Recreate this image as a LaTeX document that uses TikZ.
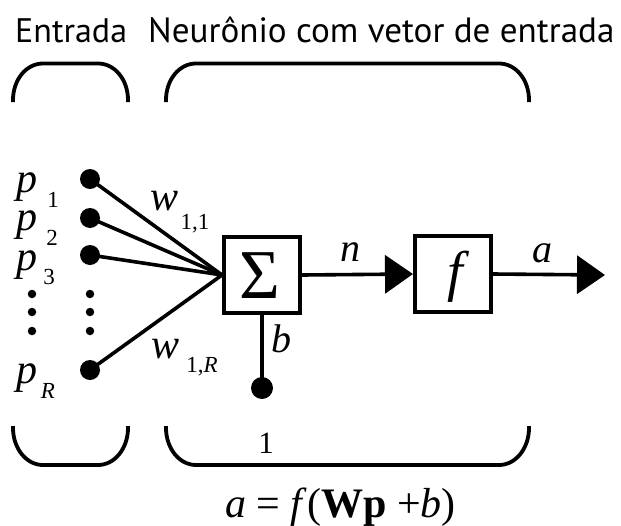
\documentclass[tikz,border=0pt]{standalone}
\usepackage{fontspec}
\setmainfont{Liberation Serif}
\newfontfamily\headfont{PT Sans}
\usetikzlibrary{arrows.meta}

\begin{document}
\begin{tikzpicture}[x=1pt,y=-1pt,
  head/.style={font=\headfont\fontsize{34}{40}\selectfont, inner sep=0pt, anchor=base west},
  var/.style={font=\fontsize{42}{48}\selectfont\itshape, inner sep=0pt},
  lbl/.style={font=\fontsize{40}{46}\selectfont\itshape, inner sep=0pt},
  sub/.style={font=\fontsize{23}{28}\selectfont, inner sep=0pt},
  blockbox/.style={draw, line width=4pt, minimum size=76pt, inner sep=0pt},
  indot/.style={circle, fill, minimum size=20pt, inner sep=0pt},
  smalldot/.style={circle, fill, minimum size=8.5pt, inner sep=0pt},
  wire/.style={line width=3.6pt},
  bracket/.style={line width=3.8pt, line cap=butt},
  outarrow/.style={wire, -{Triangle[length=28pt,width=38pt]}}
]
\useasboundingbox (0,0) rectangle (621,525);

% headings
\node[head] (hin) at (15,42) {Entrada};
\node[head, font=\headfont\fontsize{35.1}{40}\selectfont] (hneu) at (148,42) {Neurônio com vetor de entrada};

% upper brackets
\draw[bracket] (13,102) -- (13,100) .. controls (13,80) and (26,63.5) .. (43,63.5)
  -- (98,63.5) .. controls (115,63.5) and (128,80) .. (128,100) -- (128,102);
\draw[bracket] (166,102) -- (166,100) .. controls (166,80) and (179,63.5) .. (196,63.5)
  -- (499,63.5) .. controls (516,63.5) and (529,80) .. (529,100) -- (529,102);

% lower brackets
\draw[bracket] (13,426) -- (13,428) .. controls (13,448) and (26,465) .. (43,465)
  -- (98,465) .. controls (115,465) and (128,448) .. (128,428) -- (128,426);
\draw[bracket] (166,426) -- (166,428) .. controls (166,448) and (179,465) .. (196,465)
  -- (499,465) .. controls (516,465) and (529,448) .. (529,428) -- (529,426);

% input labels
\node[var] (lp1) at (27,187) {p};
\node[var] (lp2) at (27,225.5) {p};
\node[var] (lp3) at (27,265) {p};
\node[var] (lpR) at (27,378) {p};
\node[sub] (s1) at (53,200) {1};
\node[sub] (s2) at (52,238) {2};
\node[sub] (s3) at (49,277) {3};
\node[sub, font=\fontsize{23}{28}\selectfont\itshape] (sR) at (48,391) {R};

% input dots
\node[indot] (p1) at (90,179) {};
\node[indot] (p2) at (90,218) {};
\node[indot] (p3) at (90,255) {};
\node[indot] (pR) at (90,370) {};
\foreach \yy [count=\k] in {294,312,331} {
  \node[smalldot] (ldot\k) at (32,\yy) {};
  \node[smalldot] (rdot\k) at (90,\yy) {};
}

% summing junction and transfer function
\node[blockbox] (sig) at (262,275) {};
\node[font=\fontsize{70}{76}\selectfont, inner sep=0pt] (sigma) at (260,276) {Σ};
\node[blockbox] (fbox) at (453,274) {};
\node[font=\fontsize{56}{62}\selectfont\itshape, inner sep=0pt] (fsym) at (455,277) {f};

% weights
\draw[wire] (p1.center) -- (sig.west);
\draw[wire] (p2.center) -- (sig.west);
\draw[wire] (p3.center) -- (sig.west);
\draw[wire] (pR.center) -- (sig.west);
\node[var] (w11) at (165,201) {w};
\node[sub] (w11s) at (195,224) {1,1};
\node[var] (w1R) at (166,349) {w};
\node[sub] (w1Rs) at (202,367) {1,\textit{R}};

% bias
\node[indot, minimum size=22pt] (one) at (262,388) {};
\draw[wire] (sig.south) -- (one.center);
\node[lbl] (lb) at (281,339) {b};
\node[font=\fontsize{31}{34}\selectfont, inner sep=0pt] (lone) at (266,443) {1};

% signal path
\coordinate (aout) at (605,275);
\draw[outarrow] (sig.east) -- (fbox.west);
\draw[outarrow] (fbox.east) -- (aout);
\node[lbl] (ln) at (350,252) {n};
\node[lbl] (la) at (542,253) {a};

% neuron equation
\node[font=\fontsize{42}{48}\selectfont, inner sep=0pt, anchor=base] (eq) at (340.5,517)
  {\textit{a} = \textit{f}(\textbf{Wp} +\textit{b})};
\end{tikzpicture}
\end{document}
